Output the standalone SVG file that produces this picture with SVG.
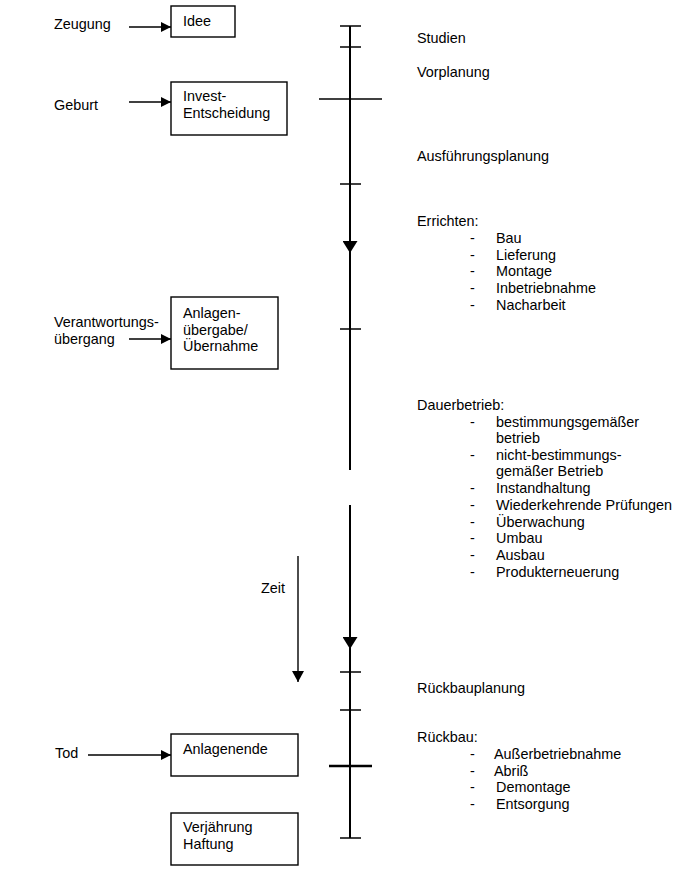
<svg xmlns="http://www.w3.org/2000/svg" width="687" height="873" viewBox="0 0 687 873">
<style>
text{font-family:"Liberation Sans",Arial,sans-serif;font-size:14.4px;fill:#000}
.box{fill:#fff;stroke:#000;stroke-width:1.4}
.ln{stroke:#000;stroke-width:1.4;fill:none}
.tl{stroke:#000;stroke-width:2;fill:none}
.tk{stroke:#000;stroke-width:1.5}
.tkb{stroke:#000;stroke-width:2.4}
</style>
<defs>
<marker id="ah" markerUnits="userSpaceOnUse" markerWidth="11" markerHeight="10" refX="10" refY="5" orient="auto"><path d="M0,0 L10,5 L0,10 Z" fill="#000"/></marker>
<marker id="tah" markerUnits="userSpaceOnUse" markerWidth="14" markerHeight="15" refX="12" refY="7.5" orient="auto"><path d="M0,0 L12,7.5 L0,15 Z" fill="#000"/></marker>
<marker id="zah" markerUnits="userSpaceOnUse" markerWidth="13" markerHeight="13" refX="11" refY="6" orient="auto"><path d="M0,0 L11,6 L0,12 Z" fill="#000"/></marker>
</defs>

<g id="connectors">
<line class="ln" x1="129" y1="27" x2="171" y2="27" marker-end="url(#ah)"/>
<line class="ln" x1="129" y1="102" x2="171" y2="102" marker-end="url(#ah)"/>
<line class="ln" x1="129" y1="339" x2="171" y2="339" marker-end="url(#ah)"/>
<line class="ln" x1="88" y1="755" x2="171" y2="755" marker-end="url(#ah)"/>
<line class="ln" x1="298" y1="556" x2="298" y2="682" marker-end="url(#zah)"/>
</g>

<g id="timeline">
<line class="tl" x1="350" y1="26" x2="350" y2="253" marker-end="url(#tah)"/>
<line class="tl" x1="350" y1="250" x2="350" y2="470"/>
<line class="tl" x1="350" y1="505" x2="350" y2="649" marker-end="url(#tah)"/>
<line class="tl" x1="350" y1="645" x2="350" y2="838"/>
<line class="tk" x1="340" y1="26" x2="361" y2="26"/>
<line class="tk" x1="340" y1="47" x2="361" y2="47"/>
<line class="tk" x1="319" y1="99" x2="382" y2="99"/>
<line class="tk" x1="340" y1="184" x2="361" y2="184"/>
<line class="tk" x1="340" y1="329" x2="361" y2="329"/>
<line class="tk" x1="340" y1="672" x2="361" y2="672"/>
<line class="tk" x1="340" y1="710" x2="361" y2="710"/>
<line class="tkb" x1="329" y1="766" x2="372" y2="766"/>
<line class="tk" x1="340" y1="838" x2="361" y2="838"/>
</g>

<g id="labels-left">
<text x="54" y="29">Zeugung</text>
<text x="54" y="110">Geburt</text>
<text x="54" y="327">Verantwortungs-</text>
<text x="54" y="344">übergang</text>
<text x="55" y="758">Tod</text>
<text x="261" y="593">Zeit</text>
</g>

<g id="node-idee">
<rect class="box" x="171" y="6" width="64" height="31"/>
<text x="183" y="26">Idee</text>
</g>
<g id="node-invest">
<rect class="box" x="171" y="82" width="116" height="53"/>
<text x="183" y="101">Invest-</text>
<text x="183" y="118">Entscheidung</text>
</g>
<g id="node-anlagenuebergabe">
<rect class="box" x="171" y="297" width="107" height="72"/>
<text x="183" y="318">Anlagen-</text>
<text x="183" y="335">übergabe/</text>
<text x="183" y="351">Übernahme</text>
</g>
<g id="node-anlagenende">
<rect class="box" x="171" y="734" width="127" height="42"/>
<text x="183" y="754">Anlagenende</text>
</g>
<g id="node-verjaehrung">
<rect class="box" x="171" y="813" width="127" height="52"/>
<text x="183" y="832">Verjährung</text>
<text x="183" y="849">Haftung</text>
</g>

<g id="phases">
<text x="417" y="43">Studien</text>
<text x="417" y="77">Vorplanung</text>
<text x="417" y="161">Ausführungsplanung</text>
<text x="417" y="226">Errichten:</text>
<text x="470" y="243">-</text><text x="496" y="243">Bau</text>
<text x="470" y="260">-</text><text x="496" y="260">Lieferung</text>
<text x="470" y="276">-</text><text x="496" y="276">Montage</text>
<text x="470" y="293">-</text><text x="496" y="293">Inbetriebnahme</text>
<text x="470" y="310">-</text><text x="496" y="310">Nacharbeit</text>

<text x="417" y="410">Dauerbetrieb:</text>
<text x="470" y="427">-</text><text x="496" y="427">bestimmungsgemäßer</text>
<text x="496" y="443">betrieb</text>
<text x="470" y="460">-</text><text x="496" y="460">nicht-bestimmungs-</text>
<text x="496" y="476">gemäßer Betrieb</text>
<text x="470" y="493">-</text><text x="496" y="493">Instandhaltung</text>
<text x="470" y="510">-</text><text x="496" y="510">Wiederkehrende Prüfungen</text>
<text x="470" y="527">-</text><text x="496" y="527">Überwachung</text>
<text x="470" y="543">-</text><text x="496" y="543">Umbau</text>
<text x="470" y="560">-</text><text x="496" y="560">Ausbau</text>
<text x="470" y="577">-</text><text x="496" y="577">Produkterneuerung</text>

<text x="417" y="693">Rückbauplanung</text>
<text x="417" y="742">Rückbau:</text>
<text x="470" y="759">-</text><text x="494" y="759">Außerbetriebnahme</text>
<text x="470" y="776">-</text><text x="494" y="776">Abriß</text>
<text x="470" y="792">-</text><text x="496" y="792">Demontage</text>
<text x="470" y="809">-</text><text x="496" y="809">Entsorgung</text>
</g>
</svg>
